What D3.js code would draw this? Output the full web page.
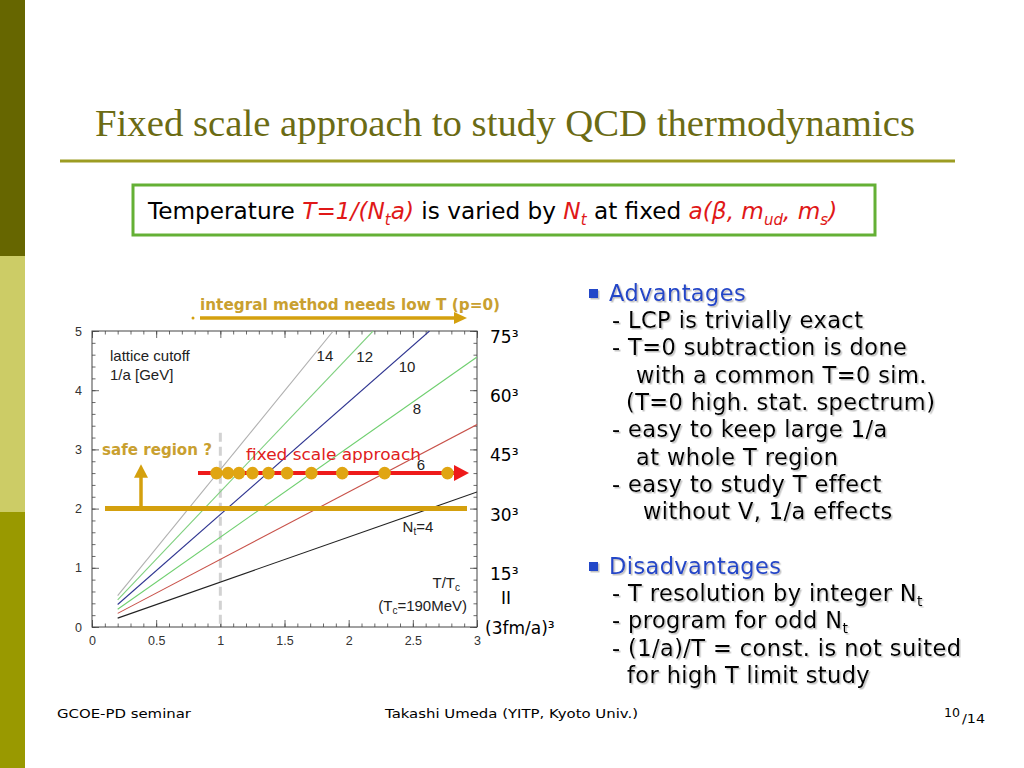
<!DOCTYPE html>
<html>
<head>
<meta charset="utf-8">
<script src="https://cdn.jsdelivr.net/npm/d3@7"></script>
<style>
  html, body { margin: 0; padding: 0; background: #fff; }
  svg { display: block; }
</style>
</head>
<body>
<div id="slide"></div>
<script>
// Données

// lignes 1/a = Nt * T  (T/Tc de 0.2 jusqu'au bord)
const ntValues = [4, 6, 8, 10, 12, 14];
const lineStartT = [0.2, 0.2, 0.2, 0.2, 0.2, 0.2];
const lineStartA = [0.15, 0.23, 0.30, 0.38, 0.46, 0.53];
const lineEndT = [3, 3, 3, 2.63, 2.19, 1.88];
const lineEndA = [2.28, 3.42, 4.56, 5, 5, 5];
const lineColors = ['#222222', '#c8524a', '#6fcf6f', '#2e3490', '#7fd07f', '#b0b0b0'];

// points de l'approche à échelle fixe (Nt = 14 ... 5)
const fixedNt = [14, 13, 12, 11, 10, 9, 8, 7, 6, 5];
const fixedT = [0.97, 1.06, 1.145, 1.25, 1.375, 1.52, 1.71, 1.95, 2.28, 2.77];
const fixedCutoff = 2.6;
const safeCutoff = 2.0;

// axes
const xTicks = [0, 0.5, 1, 1.5, 2, 2.5, 3];
const yTicks = [0, 1, 2, 3, 4, 5];
const volumeCutoffs = [5, 4, 3, 2, 1];
const volumeLabels = ['75³', '60³', '45³', '30³', '15³'];

// textes de la diapo
const advantages = [
  '- LCP is trivially exact',
  '- T=0 subtraction is done',
  'with a common T=0 sim.',
  '(T=0 high. stat. spectrum)',
  '- easy to keep large 1/a',
  'at whole T region',
  '- easy to study T effect',
  'without V, 1/a effects'
];
const disadvantages = [
  '- T resolution by integer N|t',
  '- program for odd N|t',
  '- (1/a)/T = const. is not suited',
  'for high T limit study'
];

const W = 1024, H = 768;
const svg = d3.select('#slide').append('svg')
  .attr('width', W).attr('height', H);

const defs = svg.append('defs');
defs.append('filter').attr('id', 'shadow')
  .attr('x', '-5%').attr('y', '-20%').attr('width', '115%').attr('height', '150%')
  .append('feDropShadow')
  .attr('dx', 1.5).attr('dy', 1.5).attr('stdDeviation', 0.6)
  .attr('flood-color', '#999').attr('flood-opacity', 0.6);

// bande de gauche
svg.append('rect').attr('x', 0).attr('y', 0).attr('width', 25).attr('height', 256).attr('fill', '#666600');
svg.append('rect').attr('x', 0).attr('y', 256).attr('width', 25).attr('height', 256).attr('fill', '#cccc66');
svg.append('rect').attr('x', 0).attr('y', 512).attr('width', 25).attr('height', 256).attr('fill', '#999900');

// titre
svg.append('text')
  .attr('x', 95).attr('y', 136)
  .attr('textLength', 820).attr('lengthAdjust', 'spacingAndGlyphs')
  .style('font-family', '"Liberation Serif", serif')
  .style('font-size', '38px')
  .style('fill', '#6b6b14')
  .text('Fixed scale approach to study QCD thermodynamics');
svg.append('line')
  .attr('x1', 60).attr('x2', 955).attr('y1', 161).attr('y2', 161)
  .attr('stroke', '#9c9c22').attr('stroke-width', 3);

// encadré
svg.append('rect')
  .attr('x', 133).attr('y', 185).attr('width', 742).attr('height', 50)
  .attr('fill', '#fff').attr('stroke', '#64b035').attr('stroke-width', 3);
const box = svg.append('text')
  .attr('x', 148).attr('y', 219)
  .style('font-family', '"DejaVu Sans", sans-serif')
  .style('font-size', '23.2px')
  .style('fill', '#000');
box.append('tspan').text('Temperature ');
const red = (t) => box.append('tspan').style('fill', '#e01818').style('font-style', 'italic').text(t);
const sub = (t) => box.append('tspan').style('fill', '#e01818').style('font-style', 'italic')
  .style('font-size', '15px').attr('dy', 6).text(t);
const up = (t, col) => box.append('tspan').style('fill', col || '#e01818').style('font-style', col ? 'normal' : 'italic').attr('dy', -6).text(t);
red('T=1/(N');
sub('t');
up('a)');
box.append('tspan').text(' is varied by ');
red('N');
sub('t');
up(' at fixed ', '#000');
red('a(β, m');
sub('ud');
up(', m');
sub('s');
up(')');

// ---------- graphique ----------
const x = d3.scaleLinear().domain([0, 3]).range([92, 477]);
const y = d3.scaleLinear().domain([0, 5]).range([627, 331]);

const chart = svg.append('g');

defs.append('clipPath').attr('id', 'plotclip')
  .append('rect').attr('x', x(0)).attr('y', y(5))
  .attr('width', x(3) - x(0)).attr('height', y(0) - y(5));

// ticks mineurs
const minorX = d3.range(0, 3.001, 0.1);
const minorY = d3.range(0, 5.001, 0.2);
const axisStyle = (g) => {
  g.select('.domain').remove();
  g.selectAll('line').attr('stroke', '#444').attr('stroke-width', 0.8);
  g.selectAll('text').style('font-family', '"Liberation Sans", Arial, sans-serif')
    .style('font-size', '12.5px').style('fill', '#333');
};
chart.append('g').attr('transform', `translate(0,${y(0)})`)
  .call(d3.axisBottom(x).tickValues(minorX).tickSize(-3.5).tickFormat('')).call(axisStyle);
chart.append('g').attr('transform', `translate(0,${y(5)})`)
  .call(d3.axisTop(x).tickValues(minorX).tickSize(-3.5).tickFormat('')).call(axisStyle);
chart.append('g').attr('transform', `translate(${x(0)},0)`)
  .call(d3.axisLeft(y).tickValues(minorY).tickSize(-3.5).tickFormat('')).call(axisStyle);
chart.append('g').attr('transform', `translate(${x(3)},0)`)
  .call(d3.axisRight(y).tickValues(minorY).tickSize(-3.5).tickFormat('')).call(axisStyle);

// ticks majeurs
chart.append('g').attr('transform', `translate(0,${y(0)})`)
  .call(d3.axisBottom(x).tickValues(xTicks).tickSize(-7).tickPadding(9).tickFormat(d => String(d)))
  .call(axisStyle);
chart.append('g').attr('transform', `translate(0,${y(5)})`)
  .call(d3.axisTop(x).tickValues(xTicks).tickSize(-7).tickFormat('')).call(axisStyle);
chart.append('g').attr('transform', `translate(${x(0)},0)`)
  .call(d3.axisLeft(y).tickValues(yTicks).tickSize(-7).tickPadding(10).tickFormat(d => String(d)))
  .call(axisStyle);
chart.append('g').attr('transform', `translate(${x(3)},0)`)
  .call(d3.axisRight(y).tickValues(yTicks).tickSize(-7).tickFormat('')).call(axisStyle);

chart.append('rect')
  .attr('x', x(0)).attr('y', y(5))
  .attr('width', x(3) - x(0)).attr('height', y(0) - y(5))
  .attr('fill', 'none').attr('stroke', '#444').attr('stroke-width', 1);

// ligne pointillée T = Tc
chart.append('line')
  .attr('x1', x(1)).attr('x2', x(1)).attr('y1', y(3.28)).attr('y2', y(0))
  .attr('stroke', '#d2d2d2').attr('stroke-width', 3).attr('stroke-dasharray', '9,5');

// droites Nt
const lineGen = d3.line().x(d => x(d[0])).y(d => y(d[1]));
chart.append('g').attr('clip-path', 'url(#plotclip)')
  .selectAll('path').data(ntValues).join('path')
  .attr('d', (d, i) => lineGen([[lineStartT[i], lineStartA[i]], [lineEndT[i], lineEndA[i]]]))
  .attr('fill', 'none')
  .attr('stroke', (d, i) => lineColors[i])
  .attr('stroke-width', 1.1);

// étiquettes
const lab = (px, py, txt, size, anchor) => chart.append('text')
  .attr('x', px).attr('y', py).attr('text-anchor', anchor || 'start')
  .style('font-family', '"Liberation Sans", Arial, sans-serif')
  .style('font-size', (size || 15) + 'px').style('fill', '#222').text(txt);
lab(x(0.14), y(4.49), 'lattice cutoff');
lab(x(0.14), y(4.18), '1/a [GeV]');
lab(x(1.75), y(4.5), '14');
lab(x(2.06), y(4.48), '12');
lab(x(2.39), y(4.3), '10');
lab(x(2.5), y(3.59), '8');
lab(x(2.53), y(2.65), '6');
const ntLab = lab(x(2.42), y(1.6), 'N');
ntLab.append('tspan').attr('dy', 3).style('font-size', '10px').text('t');
ntLab.append('tspan').attr('dy', -3).text('=4');
const tt = lab(x(3) - 17, y(0.66), 'T/T', 15, 'end');
tt.append('tspan').attr('dy', 3).style('font-size', '10px').text('c');
const tc = lab(x(3) - 10, y(0.27), '(T', 15, 'end');
tc.append('tspan').attr('dy', 3).style('font-size', '10px').text('c');
tc.append('tspan').attr('dy', -3).text('=190MeV)');

// volumes à droite
const volFont = '"DejaVu Sans", Verdana, sans-serif';
chart.selectAll('text.vol').data(volumeLabels).join('text')
  .attr('class', 'vol')
  .attr('x', 490)
  .attr('y', (d, i) => y(volumeCutoffs[i]) + 12)
  .style('font-family', volFont).style('font-size', '17px').style('fill', '#000')
  .text(d => d);
chart.append('text').attr('x', 506).attr('y', y(0) - 23)
  .attr('text-anchor', 'middle')
  .style('font-family', volFont).style('font-size', '17px').text('II');
chart.append('text').attr('x', 485).attr('y', y(0) + 7)
  .style('font-family', volFont).style('font-size', '17px').text('(3fm/a)³');

const gold = '#d4a00e';
const goldText = '#c9a030';

// flèche "integral method"
const arrowY = 318;
chart.append('line').attr('x1', 200).attr('x2', 457).attr('y1', arrowY).attr('y2', arrowY)
  .attr('stroke', gold).attr('stroke-width', 3.5);
chart.append('path')
  .attr('d', `M467,${arrowY} L454,${arrowY - 6} L454,${arrowY + 6} Z`).attr('fill', gold);
chart.append('circle').attr('cx', 193).attr('cy', arrowY).attr('r', 1.5).attr('fill', gold);
chart.append('text').attr('x', 200).attr('y', 310)
  .attr('textLength', 300).attr('lengthAdjust', 'spacingAndGlyphs')
  .style('font-family', '"DejaVu Sans", sans-serif').style('font-size', '15px')
  .style('font-weight', 'bold').style('fill', goldText)
  .text('integral method needs low T (p=0)');

// région sûre
chart.append('line').attr('x1', 105).attr('x2', 467).attr('y1', y(safeCutoff)).attr('y2', y(safeCutoff))
  .attr('stroke', gold).attr('stroke-width', 5);
chart.append('line').attr('x1', 141).attr('x2', 141).attr('y1', y(safeCutoff)).attr('y2', y(2.55))
  .attr('stroke', gold).attr('stroke-width', 3.5);
chart.append('path')
  .attr('d', `M141,${y(2.75)} L134,${y(2.52)} L148,${y(2.52)} Z`).attr('fill', gold);
chart.append('text').attr('x', 102).attr('y', 455)
  .attr('textLength', 110).attr('lengthAdjust', 'spacingAndGlyphs')
  .style('font-family', '"DejaVu Sans", sans-serif').style('font-size', '15px')
  .style('font-weight', 'bold').style('fill', goldText)
  .text('safe region ?');

// approche à échelle fixe
chart.append('line').attr('x1', 198).attr('x2', 455).attr('y1', y(fixedCutoff)).attr('y2', y(fixedCutoff))
  .attr('stroke', '#ee1a1a').attr('stroke-width', 4);
chart.append('path')
  .attr('d', `M469,${y(fixedCutoff)} L454,${y(fixedCutoff) - 8} L454,${y(fixedCutoff) + 8} Z`)
  .attr('fill', '#ee1a1a');
chart.selectAll('circle.fixed').data(fixedT).join('circle')
  .attr('class', 'fixed')
  .attr('cx', d => x(d)).attr('cy', y(fixedCutoff)).attr('r', 6.3)
  .attr('fill', '#e0a512');
chart.append('text').attr('x', 246).attr('y', 460)
  .attr('textLength', 175).attr('lengthAdjust', 'spacingAndGlyphs')
  .style('font-family', '"DejaVu Sans", sans-serif').style('font-size', '16px')
  .style('fill', '#e02020')
  .text('fixed scale approach');

// ---------- texte à droite ----------
const rt = svg.append('g').attr('filter', 'url(#shadow)');
const rFont = '"DejaVu Sans", Verdana, sans-serif';
const writeLine = (px, py, txt, col) => {
  const parts = txt.split('|');
  const t = rt.append('text').attr('x', px).attr('y', py)
    .style('font-family', rFont).style('font-size', '22.5px')
    .style('letter-spacing', '0.4px').style('fill', col);
  t.append('tspan').text(parts[0]);
  if (parts[1]) t.append('tspan').attr('dy', 5).style('font-size', '14px').text(parts[1]);
};
const bullet = (py) => rt.append('rect').attr('x', 589).attr('y', py - 12).attr('width', 9).attr('height', 9).attr('fill', '#2446c8');

bullet(301);
writeLine(609, 301, 'Advantages', '#2446c8');
const advIndent = [612, 612, 636, 626, 612, 636, 612, 643];
advantages.forEach((t, i) => writeLine(advIndent[i], 328 + i * 27.3, t, '#000'));
bullet(574);
writeLine(609, 574, 'Disadvantages', '#2446c8');
const disIndent = [612, 612, 612, 627];
disadvantages.forEach((t, i) => writeLine(disIndent[i], 601 + i * 27.3, t, '#000'));

// pied de page
const foot = (px, py, txt, len, size) => svg.append('text').attr('x', px).attr('y', py)
  .attr('textLength', len).attr('lengthAdjust', 'spacingAndGlyphs')
  .style('font-family', '"DejaVu Sans", sans-serif').style('font-size', (size || 13) + 'px')
  .style('fill', '#000').text(txt);
foot(57, 718, 'GCOE-PD seminar', 134);
foot(385, 718, 'Takashi Umeda (YITP, Kyoto Univ.)', 253);
foot(944, 717, '10', 16);
foot(962, 723, '/14', 23);
</script>
</body>
</html>
